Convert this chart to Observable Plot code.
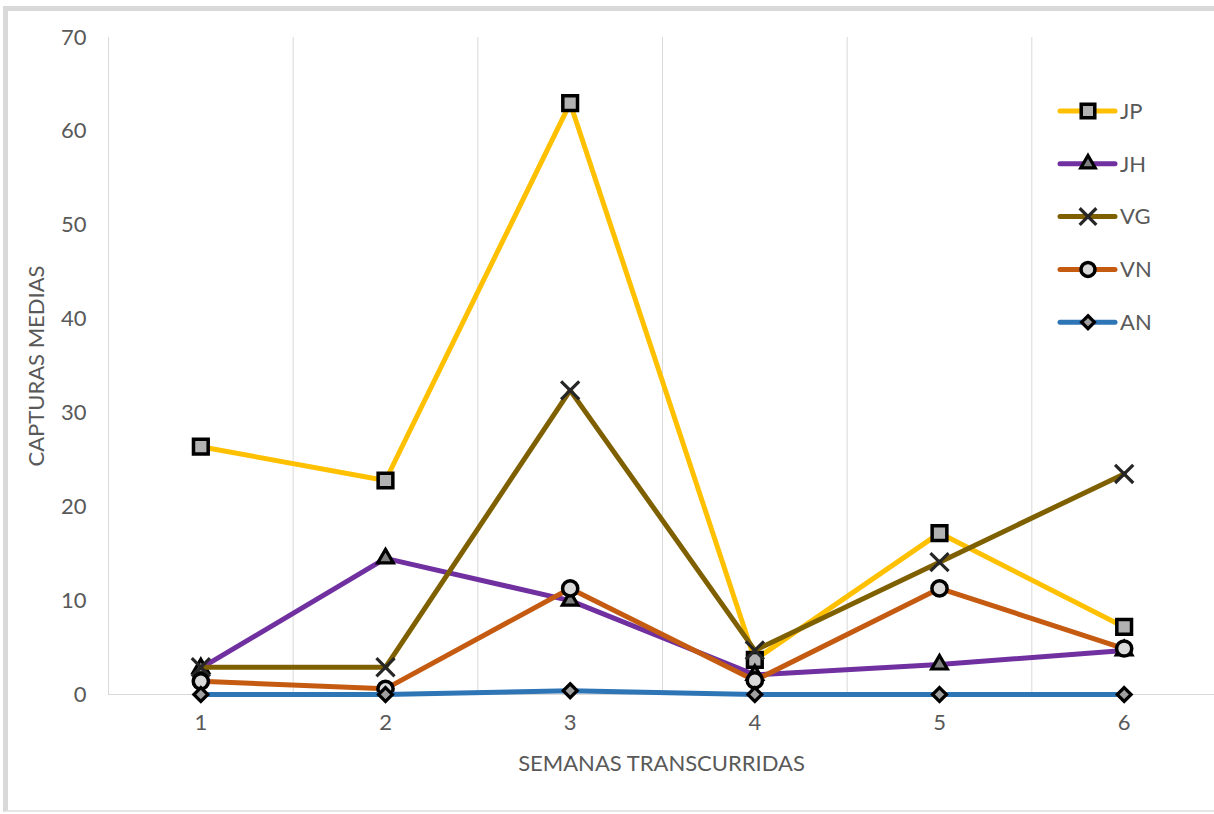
<!DOCTYPE html>
<html>
<head>
<meta charset="utf-8">
<script src="https://cdn.jsdelivr.net/npm/d3@7"></script>
<script src="https://cdn.jsdelivr.net/npm/@observablehq/plot@0.6"></script>
<style>
  body { margin: 0; background: #fff; }
  #wrap { position: relative; width: 1214px; height: 814px; overflow: hidden; background: #fff; font-family: Lato, "Open Sans", sans-serif; }
  #frame { position: absolute; left: 3px; top: 6px; width: 1300px; height: 806px; border-left: 5px solid #d9d9d9; border-top: 5px solid #d9d9d9; border-bottom: 2px solid #e6e6e6; box-sizing: border-box; }
  #chart { position: absolute; left: 0; top: 0; }
  #legend { position: absolute; left: 0; top: 0; }
</style>
</head>
<body>
<div id="wrap">
  <div id="frame"></div>
  <div id="chart"></div>
  <svg id="legend" width="1214" height="814"></svg>
</div>
<script>
// ---- data ----
const weeks = [1, 2, 3, 4, 5, 6];
const seriesNames = ["JP", "JH", "VG", "VN", "AN"];
const jpValues = [26.4, 22.8, 63.0, 3.7, 17.2, 7.2];
const jhValues = [2.8, 14.5, 10.0, 2.1, 3.2, 4.7];
const vgValues = [2.9, 2.9, 32.4, 4.7, 14.1, 23.5];
const vnValues = [1.4, 0.6, 11.3, 1.5, 11.3, 4.9];
const anValues = [0, 0, 0.4, 0, 0, 0];
const yTicks = [0, 10, 20, 30, 40, 50, 60, 70];
const gridX = [0.5, 1.5, 2.5, 3.5, 4.5, 5.5];
const xTitle = "SEMANAS TRANSCURRIDAS";
const yTitle = "CAPTURAS MEDIAS";

// ---- styles ----
const seriesStyle = [
  {name: "JP", values: jpValues, color: "#FFC000", symbol: "square",   r: 8.3, fill: "#b2b2b2", stroke: "#000", sw: 3.5},
  {name: "JH", values: jhValues, color: "#7030A0", symbol: "triangle", r: 5.8, fill: "#808080", stroke: "#000", sw: 3.2},
  {name: "VG", values: vgValues, color: "#7F6000", symbol: "times",    r: 8.3, fill: "none",    stroke: "#262626", sw: 3.2},
  {name: "VN", values: vnValues, color: "#C55A11", symbol: "circle",   r: 7.6, fill: "#d9d9d9", stroke: "#000", sw: 3.5},
  {name: "AN", values: anValues, color: "#2E75B6", symbol: "diamond2", r: 6.3, fill: "#a0a0a0", stroke: "#000", sw: 3.2}
];

const rows = [];
seriesStyle.forEach(s => weeks.forEach((w, j) => rows.push({serie: s.name, semana: w, valor: s.values[j]})));

const marks = [
  Plot.ruleX(gridX, {y1: 0, y2: 70, stroke: "#d9d9d9", strokeWidth: 1}),
  Plot.ruleY([0], {stroke: "#d9d9d9", strokeWidth: 1.2}),
  Plot.axisY({ticks: yTicks, tickFormat: "d", tickSize: 0, tickPadding: 22, fontSize: 22, label: yTitle, labelAnchor: "center", labelArrow: "none", labelOffset: 80}),
  Plot.axisX({ticks: weeks, tickFormat: "d", tickSize: 0, tickPadding: 20, fontSize: 22, label: xTitle, labelAnchor: "center", labelArrow: "none", labelOffset: 76})
];
seriesStyle.forEach(s => {
  const d = rows.filter(r => r.serie === s.name);
  marks.push(Plot.line(d, {x: "semana", y: "valor", stroke: s.color, strokeWidth: 5, strokeLinejoin: "round", strokeLinecap: "round"}));
  marks.push(Plot.dot(d, {x: "semana", y: "valor", symbol: s.symbol, r: s.r, fill: s.fill, stroke: s.stroke, strokeWidth: s.sw}));
});

const chart = Plot.plot({
  width: 1214,
  height: 814,
  marginTop: 37,
  marginBottom: 120,
  marginLeft: 108,
  marginRight: 0,
  style: {fontFamily: "Lato, 'Open Sans', sans-serif", fontSize: "22px", color: "#595959", background: "transparent"},
  x: {type: "linear", domain: [0.5, 6.5], range: [108, 1216]},
  y: {domain: [0, 70], range: [694, 37]},
  marks
});
document.getElementById("chart").appendChild(chart);

// ---- legend (inside the plot area, top right) ----
const lg = d3.select("#legend");
const symMap = {square: d3.symbolSquare, triangle: d3.symbolTriangle, times: d3.symbolTimes, circle: d3.symbolCircle, diamond2: d3.symbolDiamond2};
seriesStyle.forEach((s, i) => {
  const cy = 111 + i * 52.8;
  const g = lg.append("g").attr("transform", `translate(0,${cy})`);
  g.append("line").attr("x1", 1060).attr("x2", 1115).attr("y1", 0).attr("y2", 0)
    .attr("stroke", s.color).attr("stroke-width", 5).attr("stroke-linecap", "round");
  g.append("path").attr("transform", "translate(1088,0)")
    .attr("d", d3.symbol(symMap[s.symbol], Math.PI * s.r * s.r * 0.85)())
    .attr("fill", s.fill).attr("stroke", s.stroke).attr("stroke-width", s.sw);
  g.append("text").attr("x", 1120).attr("y", 0).attr("dy", "0.35em")
    .attr("fill", "#595959").attr("font-size", 22).attr("font-family", "Lato, 'Open Sans', sans-serif")
    .text(s.name);
});
</script>
</body>
</html>
